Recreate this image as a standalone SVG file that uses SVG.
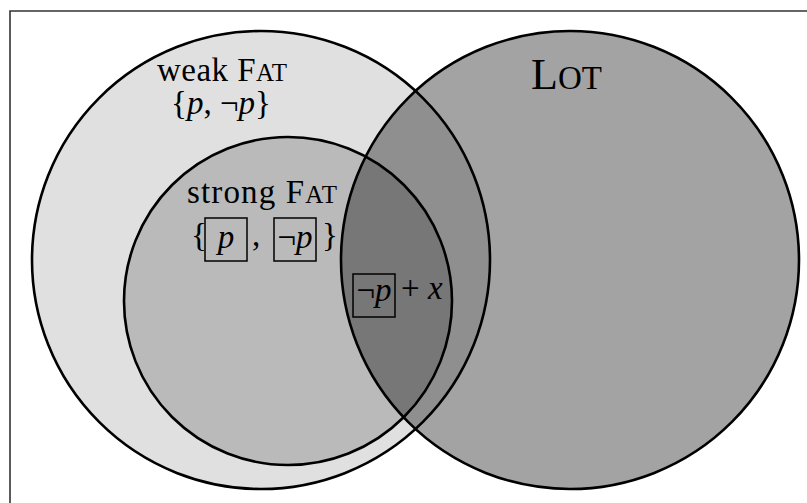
<svg xmlns="http://www.w3.org/2000/svg" width="807" height="503" viewBox="0 0 807 503">
<style>
.c{fill:#000;stroke:#000;stroke-width:2.6}
.t{font-family:"Liberation Serif",serif;font-size:33px;fill:#000}
.i{font-style:italic}
.b{fill:none;stroke:#000;stroke-width:1.5}
</style>
<rect width="807" height="503" fill="#fff"/>
<path d="M10 503 V11 H807" fill="none" stroke="#333" stroke-width="1.6"/>
<g id="weak-fat">
<circle class="c" cx="261" cy="260" r="229" fill-opacity="0.122"/>
<text class="t" x="157" y="81" textLength="130">weak F<tspan style="font-size:25px">AT</tspan></text>
<text class="t" x="221" y="114" text-anchor="middle">{<tspan class="i">p</tspan>, ¬<tspan class="i">p</tspan>}</text>
</g>
<g id="strong-fat">
<circle class="c" cx="288" cy="301" r="164" fill-opacity="0.17"/>
<text class="t" x="187" y="203" textLength="150">strong F<tspan style="font-size:25px">AT</tspan></text>
<text class="t" x="191" y="246">{</text>
<rect class="b" x="205" y="218" width="42" height="43"/>
<text class="t i" x="226" y="248" text-anchor="middle">p</text>
<text class="t" x="252" y="246">,</text>
<rect class="b" x="274" y="218" width="42" height="43"/>
<text class="t" x="295" y="248" text-anchor="middle">¬<tspan class="i">p</tspan></text>
<text class="t" x="322" y="246">}</text>
</g>
<g id="lot">
<circle class="c" cx="570" cy="260" r="229" fill-opacity="0.36"/>
<text class="t" x="531" y="89" style="font-size:44px">L<tspan style="font-size:33px">OT</tspan></text>
</g>
<g id="intersection">
<rect class="b" x="353" y="274" width="42" height="43"/>
<text class="t" x="374" y="301" text-anchor="middle">¬<tspan class="i">p</tspan></text>
<text class="t" x="401" y="299">+ <tspan class="i">x</tspan></text>
</g>
<g id="connectors"/>
</svg>
